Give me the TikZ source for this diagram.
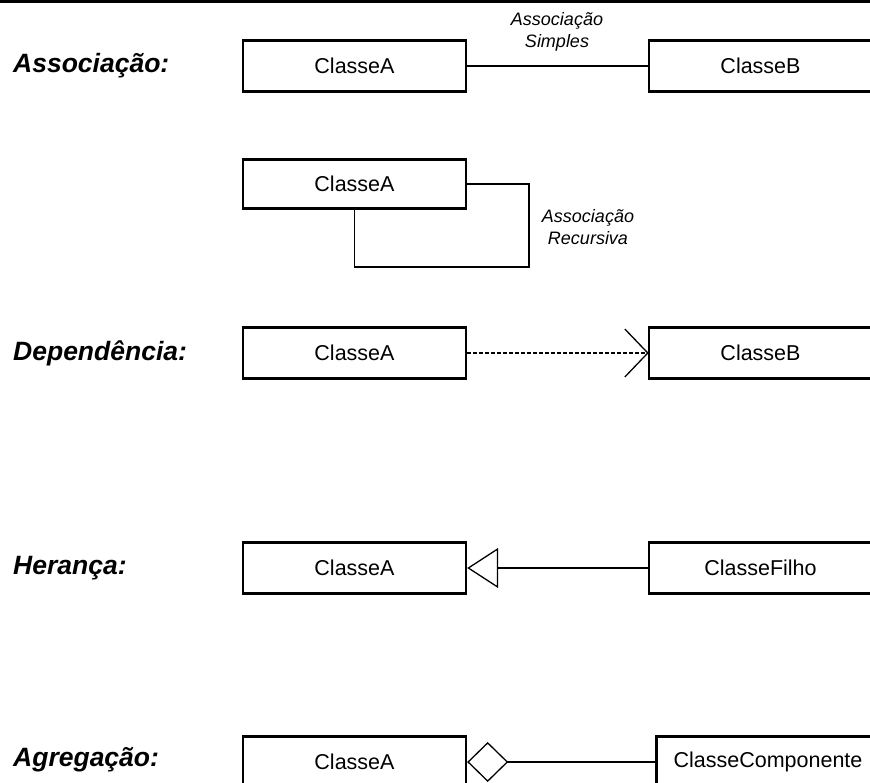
\documentclass[tikz,border=0pt]{standalone}
\usepackage{fontspec}
\setmainfont{Liberation Sans}
\usetikzlibrary{arrows.meta}
\begin{document}
\begin{tikzpicture}[x=1pt,y=-1pt,
  classbox/.style={draw, line width=2.4pt, minimum width=223pt, minimum height=51pt,
    inner sep=0pt, font=\fontsize{21.5}{24}\selectfont},
  kind/.style={anchor=west, inner sep=0pt, font=\fontsize{26.5}{29}\selectfont\bfseries\itshape},
  note/.style={align=center, inner sep=0pt, font=\fontsize{18}{22}\selectfont\itshape},
  link/.style={line width=1.3pt}]
\useasboundingbox (0,0) rectangle (870,783);
\clip (0,0) rectangle (870,783);

% rule across the top
\draw[line width=3pt] (0,1.5) -- (870,1.5);

% section titles
\node[kind] (tAssoc) at (13,66) {Associação:};
\node[kind] (tDep)   at (13,353) {Dependência:};
\node[kind] (tHer)   at (13,568) {Herança:};
\node[kind] (tAgr)   at (13,760) {Agregação:};

% simple association
\node[classbox] (a1) at (354.5,66) {ClasseA};
\node[classbox] (b1) at (760.5,66) {ClasseB};
\draw[link] (a1.east) -- (b1.west);
\node[note] (n1) at (557,32) {Associação\\Simples};

% recursive association
\node[classbox, minimum height=49pt] (a2) at (354.5,184) {ClasseA};
\coordinate (loop) at (529,267);
\draw[link] (a2.east) -| (loop) -| (a2.south);
\node[note] (n2) at (588,227) {Associação\\Recursiva};

% dependency
\node[classbox] (a3) at (354.5,353) {ClasseA};
\node[classbox] (b3) at (760.5,353) {ClasseB};
\draw[link, dash pattern=on 4pt off 2pt] (a3.east) -- (b3.west);
\draw[link, line join=miter] ([shift={(-23,-24)}]b3.west) -- (b3.west) -- ([shift={(-23,24)}]b3.west);

% inheritance
\node[classbox] (a4) at (354.5,568) {ClasseA};
\node[classbox] (f4) at (760.5,568) {ClasseFilho};
\draw[link, -{Triangle[open, length=31pt, width=40pt]}] (f4.west) -- (a4.east);

% aggregation
\node[classbox] (a5) at (354.5,762) {ClasseA};
\node[classbox] (c5) at (768,762) {ClasseComponente};
\draw[link, -{Diamond[open, length=41pt, width=40pt]}] (c5.west) -- (a5.east);
\end{tikzpicture}
\end{document}
